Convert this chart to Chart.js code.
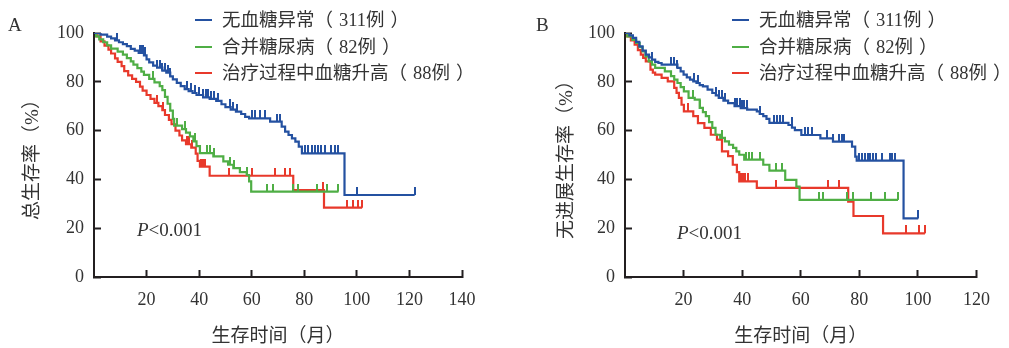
<!DOCTYPE html>
<html>
<head>
<meta charset="utf-8">
<script src="https://cdn.jsdelivr.net/npm/chart.js@4.4.1/dist/chart.umd.min.js"></script>
<style>
  html, body { margin: 0; padding: 0; background: #fff; }
  #wrap { position: relative; width: 1009px; height: 348px; overflow: hidden;
          font-family: "Liberation Serif", "Noto Sans CJK SC", serif; color: #333; }
  canvas { position: absolute; top: 0; }
  .tag { position: absolute; font-size: 19px; line-height: 20px; }
  .pval { position: absolute; font-size: 19px; line-height: 22px; }
  .legend { position: absolute; font-size: 18.5px; }
  .legend div { position: relative; height: 26.5px; line-height: 26px; padding-left: 27px; white-space: nowrap; }
  .legend .sw { position: absolute; left: 0; top: 12px; width: 17px; height: 2.4px; }
  .legend .pl { padding-right: 6px; }
  .legend .pr { padding-left: 6px; }
</style>
</head>
<body>
<div id="wrap">
  <canvas id="chartA" width="500" height="348" style="left:0"></canvas>
  <canvas id="chartB" width="489" height="348" style="left:520px"></canvas>
  <div class="tag" style="left:8px;top:15px">A</div>
  <div class="tag" style="left:536px;top:15px">B</div>
  <div class="pval" style="left:137px;top:219px"><i>P</i>&lt;0.001</div>
  <div class="pval" style="left:677px;top:222px"><i>P</i>&lt;0.001</div>
  <div class="legend" id="legendA" style="left:195px;top:7px"></div>
  <div class="legend" id="legendB" style="left:732px;top:7px"></div>
</div>
<script>
const groupLabels = ['无血糖异常（311例）', '合并糖尿病（82例）', '治疗过程中血糖升高（88例）'];
const groupColors = ['#2451a1', '#4fae45', '#e8392b'];

// A: overall survival, step points (months, %)
const osNormalT = [0, 2.5, 5, 6.5, 8, 9.5, 11, 12.5, 14, 15.5, 17, 19, 20, 21, 22.5, 24, 26, 27.5, 29, 30, 31.5, 33, 34.5, 36, 37.5, 39, 41.5, 44, 46.5, 48.5, 50, 52, 54, 56, 57.5, 59, 67, 71.4, 72.7, 74, 75.3, 76.6, 77.9, 79.1, 95.3, 122];
const osNormalS = [100, 99.3, 98.5, 97.8, 97, 96.2, 95.4, 94.6, 93.5, 92.8, 91.8, 90.8, 89.2, 88, 86.6, 85.8, 84.6, 83.8, 82.2, 81, 79.6, 78.2, 77, 76.2, 75.4, 74.6, 73.6, 73, 72.2, 70.8, 69.6, 68.6, 67.8, 66.8, 65.6, 65, 63.7, 61.6, 59.6, 58.2, 56.8, 55.5, 53.4, 50.7, 33.6, 33.6];
const osNormalCens = [8.6, 17.5, 18.1, 18.8, 19.4, 24, 25, 26, 27, 28, 29, 35.5, 37, 38.5, 40, 41.5, 42.5, 43.5, 44.5, 45.5, 47, 51.8, 53, 54.3, 60, 61.3, 63.2, 65.1, 69.5, 70.8, 80.3, 81.5, 82.8, 84, 85.3, 86.5, 88, 90, 91.5, 92.8, 100, 122];

const osDiabT = [0, 0.8, 2, 3.5, 5, 6.5, 9, 11, 12.5, 14, 15, 16.5, 18, 19, 21, 23, 25, 26, 27, 28, 29, 30, 30.5, 33.5, 35, 36.5, 37.8, 39, 40.3, 45.4, 49.2, 51, 53, 55.5, 58.1, 59, 59.8, 93];
const osDiabS = [100, 98.6, 97.4, 96.2, 94.9, 93.6, 92.4, 91.1, 89.7, 88.4, 87, 85.6, 84.2, 82.8, 81.2, 79.8, 78.2, 76.6, 73.8, 71, 68.2, 64.8, 62, 60.6, 59.2, 57.6, 55.6, 53.6, 50.8, 49.4, 47.4, 46, 44.6, 43, 41.8, 39.2, 35, 35];
const osDiabCens = [22.6, 31.5, 34.7, 38.5, 43, 44.3, 45.5, 51.8, 53.1, 58.2, 66, 68, 75.8, 77.7, 84.7, 88.8, 93];

const osHyperT = [0, 1, 2.5, 4, 5.5, 6.5, 8, 9, 10.5, 11.5, 13, 14.5, 16, 17.5, 18.5, 20, 21.5, 23, 24.5, 26, 27, 28.5, 29.5, 31, 32.5, 33.5, 35, 37, 38.7, 39.4, 40.3, 44, 75.8, 87.5, 102];
const osHyperS = [100, 98.6, 96.6, 94.8, 93.2, 91.6, 89.6, 88.2, 86.4, 84.4, 82.6, 81.2, 80, 78, 76.4, 74.6, 73, 71.4, 70, 68.4, 66.4, 64.4, 62.6, 60, 58, 56, 54.4, 53, 50.6, 47.6, 45.2, 41.5, 35.6, 28.4, 28.4];
const osHyperCens = [24, 26.4, 35.5, 36.3, 37.2, 40.8, 41.6, 42.4, 51.2, 60, 68.9, 72.7, 74.6, 87, 96.1, 98.7, 100.6, 102];

// B: progression-free survival
const pfsNormalT = [0, 1.5, 2.7, 3.8, 4.9, 6, 7.1, 8.2, 9.2, 10.3, 11.4, 12.5, 17.9, 19, 20, 21.1, 22.2, 23.3, 24.4, 25.5, 26.6, 28.2, 29.8, 31, 32, 33.6, 35.2, 37.4, 39.5, 41.7, 45, 46, 47.2, 48.3, 49.3, 55.8, 57, 58, 60.2, 66.7, 71, 77.5, 78.6, 79.1, 95.1, 100.1];
const pfsNormalS = [100, 99, 98, 96.4, 94.5, 92.8, 91.1, 90, 89.1, 88.2, 87.7, 87, 85.7, 84.3, 82.9, 81.8, 80.9, 80.2, 79.5, 78.6, 78.1, 76.8, 75.4, 74.4, 73.4, 72.3, 71.3, 70, 69.2, 68.6, 67.9, 66.8, 65.9, 64.8, 63.2, 62.3, 61.2, 60.2, 58.2, 56.8, 55.5, 53.4, 49.3, 47.7, 24, 24];
const pfsNormalCens = [9.2, 15.6, 16.7, 17.9, 23.5, 25, 31, 32, 33, 34, 37.5, 38.3, 39.1, 39.9, 40.7, 41.5, 46, 50.8, 51.9, 53, 54, 56.9, 61.5, 62.6, 63.7, 68.8, 71, 73.1, 74.1, 74.7, 79.8, 80.8, 81.8, 82.8, 83.8, 84.6, 85.7, 87.8, 90.5, 91.3, 92.1, 100.1];

const pfsDiabT = [0, 0.8, 2.5, 3.8, 5, 6, 7, 8.1, 9.2, 10.3, 13.6, 15.7, 16.8, 17.9, 19, 20.1, 21.7, 23.8, 25.5, 26.6, 27.6, 28.7, 29.8, 30.9, 32.5, 34.1, 35.5, 36.9, 38, 39, 40.7, 47.2, 49.3, 54.7, 58.5, 59.6, 93.2];
const pfsDiabS = [100, 98.6, 97.2, 95.9, 94.2, 92.5, 90.4, 88.4, 87, 85.7, 84.3, 82.3, 80.9, 79.5, 77.8, 76.1, 73.4, 72.7, 69.3, 67.6, 65.9, 63.5, 61.1, 58.3, 57, 55.6, 54.2, 52.9, 51.5, 50.1, 48.1, 46, 43.6, 39.8, 37, 31.6, 31.6];
const pfsDiabCens = [23.3, 25.5, 33.1, 41.2, 42.3, 43.4, 46.1, 51.5, 53.7, 66.1, 67.7, 75.9, 78, 84, 88.9, 93.2];

const pfsHyperT = [0, 0.8, 2, 3.3, 4.4, 5.4, 6.2, 7.1, 8.7, 9.5, 10.3, 12.5, 14.6, 16.8, 17.6, 18.4, 19.3, 20.1, 23.3, 24.9, 27.1, 29.3, 31.4, 33.1, 35.2, 36.8, 38.2, 39, 45, 76.2, 78, 88.1, 102.4];
const pfsHyperS = [100, 98.6, 97, 95.2, 93, 91.1, 89.8, 88.4, 85, 83.8, 82.9, 81.6, 80.2, 77.5, 75.5, 73.4, 70.6, 67.9, 65.9, 63.1, 61.1, 58.3, 56.3, 51.5, 49.5, 46, 43, 39.2, 36.5, 30.9, 25, 17.9, 17.9];
const pfsHyperCens = [21.5, 39.5, 40.3, 41.1, 41.9, 51.4, 69.4, 72.9, 95.9, 100.3, 102.4];

const fontFamily = '"Liberation Serif", "Noto Sans CJK SC", serif';
const axisColor = '#231f20';

function stepPoints(ts, ss) {
  return ts.map((t, i) => ({ x: t, y: ss[i] }));
}

function survAt(ts, ss, t) {
  let v = ss[0];
  for (let i = 0; i < ts.length; i++) if (ts[i] <= t) v = ss[i];
  return v;
}

// small vertical tick that sits on top of the curve
function censorMark(color) {
  const c = document.createElement('canvas');
  c.width = 2; c.height = 16;
  const g = c.getContext('2d');
  g.fillStyle = color;
  g.fillRect(0, 0, 2, 8);
  return c;
}

function buildDatasets(groups) {
  const sets = [];
  groups.forEach((grp, i) => {
    sets.push({
      label: groupLabels[i],
      data: stepPoints(grp.t, grp.s),
      borderColor: groupColors[i],
      borderWidth: 2.2,
      stepped: true,
      pointRadius: 0,
      fill: false,
    });
    sets.push({
      label: '',
      data: grp.c.map(t => ({ x: t, y: survAt(grp.t, grp.s, t) })),
      showLine: false,
      pointStyle: censorMark(groupColors[i]),
      pointRadius: 3,
    });
  });
  return sets;
}

function makeChart(id, groups, xMax, padRight, yWidth, yTitle, yTitlePad) {
  const tickFont = { family: fontFamily, size: 18 };
  const titleFont = { family: fontFamily, size: 19 };
  return new Chart(document.getElementById(id), {
    type: 'line',
    data: { datasets: buildDatasets(groups) },
    options: {
      responsive: false,
      animation: false,
      layout: { padding: { left: 0, right: padRight, top: 33, bottom: 0 } },
      plugins: { legend: { display: false }, tooltip: { enabled: false } },
      scales: {
        x: {
          type: 'linear', min: 0, max: xMax,
          afterFit: s => { s.height = 71; },
          ticks: { stepSize: 20, padding: 19, color: '#333', font: tickFont, maxRotation: 0, autoSkip: false,
                   callback: v => (v === 0 ? null : v) },
          grid: { drawOnChartArea: false, tickLength: -7, tickColor: axisColor, tickWidth: 2 },
          border: { color: axisColor, width: 2 },
          title: { display: true, text: '生存时间（月）', color: '#333', font: titleFont,
                   padding: { top: 0, bottom: 0 } },
        },
        y: {
          min: 0, max: 100,
          afterFit: s => { s.width = yWidth; },
          ticks: { stepSize: 20, padding: 17, color: '#333', font: tickFont },
          grid: { drawOnChartArea: false, tickLength: -7, tickColor: axisColor, tickWidth: 2 },
          border: { color: axisColor, width: 2 },
          title: { display: true, text: yTitle, color: '#333', font: titleFont,
                   padding: { top: yTitlePad, bottom: 0 } },
        },
      },
    },
  });
}

// html legend, full-width brackets given a little air like the original typesetting
function buildLegend(id) {
  const box = document.getElementById(id);
  groupLabels.forEach((lab, i) => {
    const row = document.createElement('div');
    const sw = document.createElement('span');
    sw.className = 'sw';
    sw.style.background = groupColors[i];
    row.appendChild(sw);
    const m = lab.match(/^(.*?)（(.*)）$/);
    row.appendChild(document.createTextNode(m[1]));
    const l = document.createElement('span'); l.className = 'pl'; l.textContent = '（';
    const r = document.createElement('span'); r.className = 'pr'; r.textContent = '）';
    row.appendChild(l);
    row.appendChild(document.createTextNode(m[2]));
    row.appendChild(r);
    box.appendChild(row);
  });
}

makeChart('chartA', [
  { t: osNormalT, s: osNormalS, c: osNormalCens },
  { t: osDiabT, s: osDiabS, c: osDiabCens },
  { t: osHyperT, s: osHyperS, c: osHyperCens },
], 140, 38, 94, '总生存率（%）', 22);

makeChart('chartB', [
  { t: pfsNormalT, s: pfsNormalS, c: pfsNormalCens },
  { t: pfsDiabT, s: pfsDiabS, c: pfsDiabCens },
  { t: pfsHyperT, s: pfsHyperS, c: pfsHyperCens },
], 120, 15, 105, '无进展生存率（%）', 36);

buildLegend('legendA');
buildLegend('legendB');
</script>
</body>
</html>
